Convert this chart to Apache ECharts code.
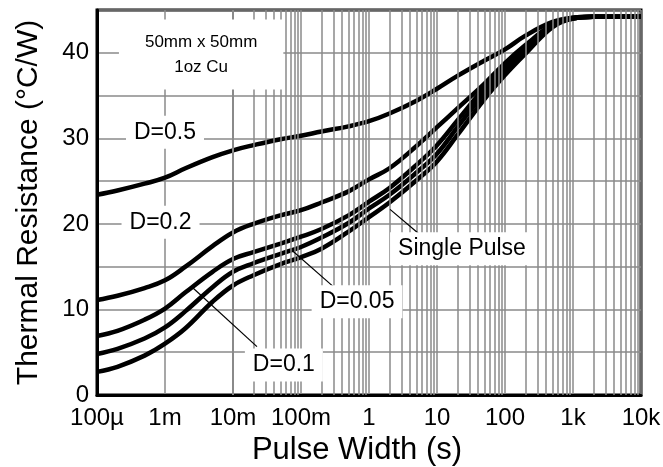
<!DOCTYPE html>
<html>
<head>
<meta charset="utf-8">
<script src="https://cdn.jsdelivr.net/npm/echarts@6/dist/echarts.min.js"></script>
<style>html,body{margin:0;padding:0;background:#fff}#c{width:663px;height:467px}</style>
</head>
<body>
<div id="c"></div>
<script>
// Pulse width (s)
const pulseWidth = [1e-4, 2e-4, 5e-4, 1e-3, 2e-3, 5e-3, 1e-2, 2e-2, 5e-2, 0.1, 0.2, 0.5, 1, 2, 5, 10, 20, 50, 100, 200, 500, 1000, 2000, 5000, 10000];
// Thermal resistance (°C/W)
const dutyD05 = [23.4, 23.9, 24.7, 25.4, 26.5, 27.8, 28.6, 29.2, 29.9, 30.3, 30.8, 31.4, 32.0, 32.9, 34.4, 35.8, 37.3, 39.1, 40.4, 42.0, 43.6, 44.1, 44.2, 44.2, 44.2];
const dutyD02 = [11.1, 11.6, 12.5, 13.4, 15.0, 17.4, 19.0, 20.0, 21.0, 21.6, 22.5, 23.8, 25.2, 26.5, 29.1, 31.3, 33.5, 36.4, 38.8, 40.9, 43.3, 44.1, 44.2, 44.2, 44.2];
const dutyD01 = [6.9, 7.5, 8.8, 10.1, 12.0, 14.4, 15.9, 16.7, 17.7, 18.5, 19.4, 21.0, 22.6, 24.2, 26.9, 29.2, 32.1, 35.9, 38.4, 40.5, 43.2, 44.0, 44.2, 44.2, 44.2];
const dutyD005 = [4.8, 5.4, 6.6, 7.9, 9.8, 12.6, 14.4, 15.4, 16.5, 17.3, 18.4, 20.1, 21.8, 23.4, 26.0, 28.2, 31.3, 35.3, 37.9, 40.2, 43.1, 44.0, 44.2, 44.2, 44.2];
const singlePulse = [2.7, 3.3, 4.6, 6.0, 7.8, 10.9, 12.8, 14.0, 15.3, 16.1, 17.1, 19.1, 20.8, 22.5, 25.1, 27.3, 30.4, 34.6, 37.4, 39.9, 43.0, 44.0, 44.2, 44.2, 44.2];

const xTickValues = [1e-4, 1e-3, 1e-2, 1e-1, 1, 10, 100, 1000, 10000];
const xTickLabels = ['100µ', '1m', '10m', '100m', '1', '10', '100', '1k', '10k'];
const yTickLabels = ['0', '10', '20', '30', '40'];

// annotations: [text, x, y]
const annotations = [
  ['50mm x 50mm\n1oz Cu', 3.4e-3, 39.8],
  ['D=0.5', 1.0e-3, 30.7],
  ['D=0.2', 8.6e-4, 20.2],
  ['D=0.1', 0.056, 3.5],
  ['D=0.05', 0.667, 10.9],
  ['Single Pulse', 23.3, 17.1]
];
// leader lines: [x1, y1, x2, y2]
const leaders = [
  [2.58e-3, 12.5, 0.0225, 5.65],
  [0.0762, 16.8, 0.296, 12.7],
  [2.04, 21.7, 5.3, 18.9]
];

function pairs(ys) { return pulseWidth.map((x, i) => [x, ys[i]]); }

const minorX = [];
for (let d = -4; d < 4; d++) {
  for (let m = 2; m <= 9; m++) minorX.push({ xAxis: m * Math.pow(10, d) });
}

const FONT = 'Liberation Sans, Arial, sans-serif';
const GRID_COLOR = '#8a8a8a';
const curveStyle = { color: '#000', width: 4.5 };
function curve(name, ys) {
  return {
    name, type: 'line', data: pairs(ys), showSymbol: false, symbol: 'none',
    smooth: 0.4, lineStyle: curveStyle, z: 4, silent: true
  };
}

const labelData = annotations.map((a, i) => {
  const item = { name: a[0], value: [a[1], a[2]] };
  if (i === 0) item.label = { fontSize: 17, lineHeight: 25, padding: [10, 26] };
  return item;
});

const chart = echarts.init(document.getElementById('c'), null, { renderer: 'canvas' });
chart.setOption({
  animation: false,
  backgroundColor: '#fff',
  grid: {
    left: 97, right: 22, top: 10, bottom: 72, containLabel: false, outerBoundsMode: 'none',
    show: true, borderColor: '#000', borderWidth: 3
  },
  xAxis: {
    type: 'log', logBase: 10, min: 1e-4, max: 1e4,
    name: 'Pulse Width (s)', nameLocation: 'middle', nameGap: 36,
    nameTextStyle: { fontFamily: FONT, fontSize: 31, color: '#000', padding: [0, 24, 0, 0] },
    axisLine: { show: true, lineStyle: { color: '#000', width: 3 } },
    axisTick: { show: false },
    axisLabel: {
      fontFamily: FONT, fontSize: 24, color: '#000', margin: 11,
      showMinLabel: true, showMaxLabel: true,
      formatter: v => {
        const i = xTickValues.findIndex(t => Math.abs(Math.log10(t) - Math.log10(v)) < 1e-6);
        return i >= 0 ? xTickLabels[i] : '';
      }
    },
    splitLine: { show: true, lineStyle: { color: GRID_COLOR, width: 1.5 } }
  },
  yAxis: {
    type: 'value', min: 0, max: 45, interval: 5,
    name: 'Thermal Resistance (°C/W)', nameLocation: 'middle', nameGap: 53,
    nameTextStyle: { fontFamily: FONT, fontSize: 30, color: '#000' },
    axisLine: { show: true, lineStyle: { color: '#000', width: 3 } },
    axisTick: { show: false },
    axisLabel: {
      fontFamily: FONT, fontSize: 24, color: '#000', margin: 8,
      formatter: v => (yTickLabels.indexOf(String(v)) >= 0 ? String(v) : '')
    },
    splitLine: { show: true, lineStyle: { color: GRID_COLOR, width: 1.5 } }
  },
  series: [
    {
      name: 'minorGrid', type: 'line', data: [], silent: true, z: 1,
      markLine: {
        silent: true, symbol: 'none', animation: false,
        label: { show: false },
        lineStyle: { color: GRID_COLOR, width: 1.5, type: 'solid', opacity: 1 },
        data: minorX
      }
    },
    curve('D=0.5', dutyD05),
    curve('D=0.2', dutyD02),
    curve('D=0.1', dutyD01),
    curve('D=0.05', dutyD005),
    curve('Single Pulse', singlePulse),
    {
      name: 'labels', type: 'scatter', symbolSize: 1, silent: true, z: 6, zlevel: 0,
      itemStyle: { opacity: 1, color: 'rgba(0,0,0,0)' },
      data: labelData,
      label: {
        show: true, position: 'inside', formatter: p => p.name,
        fontFamily: FONT, fontSize: 23, color: '#000', opacity: 1,
        backgroundColor: '#ffffff', padding: [5, 8]
      },
      markLine: {
        silent: true, symbol: 'none', animation: false,
        label: { show: false },
        lineStyle: { color: '#000', width: 1.2, type: 'solid', opacity: 1 },
        data: leaders.map(l => [{ coord: [l[0], l[1]] }, { coord: [l[2], l[3]] }])
      }
    }
  ]
});
</script>
</body>
</html>
